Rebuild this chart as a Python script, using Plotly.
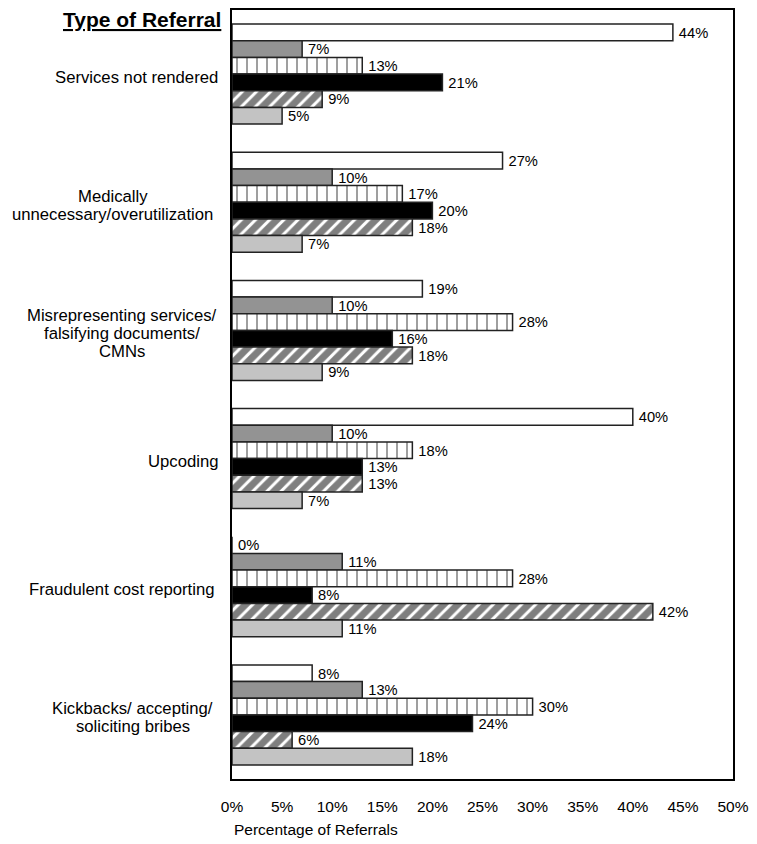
import plotly.graph_objects as go

categories = [
    "Services not rendered",
    "Medically<br>unnecessary/overutilization",
    "Misrepresenting services/<br>falsifying documents/<br>CMNs",
    "Upcoding",
    "Fraudulent cost reporting",
    "Kickbacks/ accepting/<br>soliciting bribes",
]
cat_keys = ["c1", "c2", "c3", "c4", "c5", "c6"]

series_a = [44, 27, 19, 40, 0, 8]
series_b = [7, 10, 10, 10, 11, 13]
series_c = [13, 17, 28, 18, 28, 30]
series_d = [21, 20, 16, 13, 8, 24]
series_e = [9, 18, 18, 13, 42, 6]
series_f = [5, 7, 9, 7, 11, 18]

x_ticks = [0, 5, 10, 15, 20, 25, 30, 35, 40, 45, 50]

FONT = "Liberation Sans, Arial, sans-serif"

styles = [
    dict(color="white"),
    dict(color="#939393"),
    dict(color="white", pattern=dict(shape="|", fgcolor="black", bgcolor="white", size=10, solidity=0.15)),
    dict(color="black"),
    dict(color="white", pattern=dict(shape="/", fgcolor="black", bgcolor="white", size=10, solidity=0.7)),
    dict(color="#c3c3c3"),
]
all_series = [series_a, series_b, series_c, series_d, series_e, series_f]
names = ["Series A", "Series B", "Series C", "Series D", "Series E", "Series F"]

fig = go.Figure()
for vals, st, nm in zip(all_series, styles, names):
    fig.add_trace(go.Bar(
        y=cat_keys, x=vals, orientation="h", name=nm,
        marker=dict(line=dict(color="#222222", width=1.5), **st),
        text=[f"\u2009{v}%" for v in vals], textposition="outside",
        textfont=dict(family=FONT, size=15, color="black"),
        cliponaxis=False, showlegend=False,
    ))

L, R, T, B = 232, 20, 8, 65
W, H = 757, 844
pw, ph = W - L - R, H - T - B

def px_to_paper_x(px):
    return (px - L) / pw

def px_to_paper_y(py):
    return 1 - (py - T) / ph

label_centers = [136, 112, 121, 183, 121, 132]
LINE_H = 18
annotations = []
for key, lab, cx in zip(cat_keys, categories, label_centers):
    lines = lab.split("<br>")
    n = len(lines)
    for i, line in enumerate(lines):
        annotations.append(dict(
            x=px_to_paper_x(cx), xref="paper", y=key, yref="y",
            yshift=-3 - (i - (n - 1) / 2) * LINE_H,
            text=line, showarrow=False, xanchor="center", yanchor="middle", align="center",
            font=dict(family=FONT, size=16.7, color="black"),
        ))
annotations.append(dict(
    x=px_to_paper_x(141), xref="paper", y=px_to_paper_y(18), yref="paper",
    text="<b><u>Type of Referral</u></b>", showarrow=False, xanchor="center", yanchor="middle",
    font=dict(family=FONT, size=21, color="black"),
))
annotations.append(dict(
    x=0, xref="paper", y=px_to_paper_y(830), yref="paper",
    text="Percentage of Referrals", showarrow=False, xanchor="left", yanchor="middle",
    font=dict(family=FONT, size=15.5, color="black"),
))

fig.update_layout(
    width=W, height=H,
    margin=dict(l=L, r=R, t=T, b=B, pad=0),
    barmode="group", bargap=0.22, bargroupgap=0,
    plot_bgcolor="white", paper_bgcolor="white",
    font=dict(family=FONT, size=15, color="black"),
    annotations=annotations,
)
fig.update_xaxes(
    range=[0, 50], tickvals=x_ticks, ticktext=[f"{t}%" for t in x_ticks],
    showgrid=False, zeroline=False, showline=True, mirror=True,
    linecolor="black", linewidth=1.5, ticks="", ticklabelstandoff=13,
    tickfont=dict(family=FONT, size=15.5, color="black"),
)
fig.update_yaxes(
    autorange="reversed", showticklabels=False, showgrid=False, zeroline=False,
    showline=True, mirror=True, linecolor="black", linewidth=1.5, ticks="",
)

fig.write_html("out.html")
